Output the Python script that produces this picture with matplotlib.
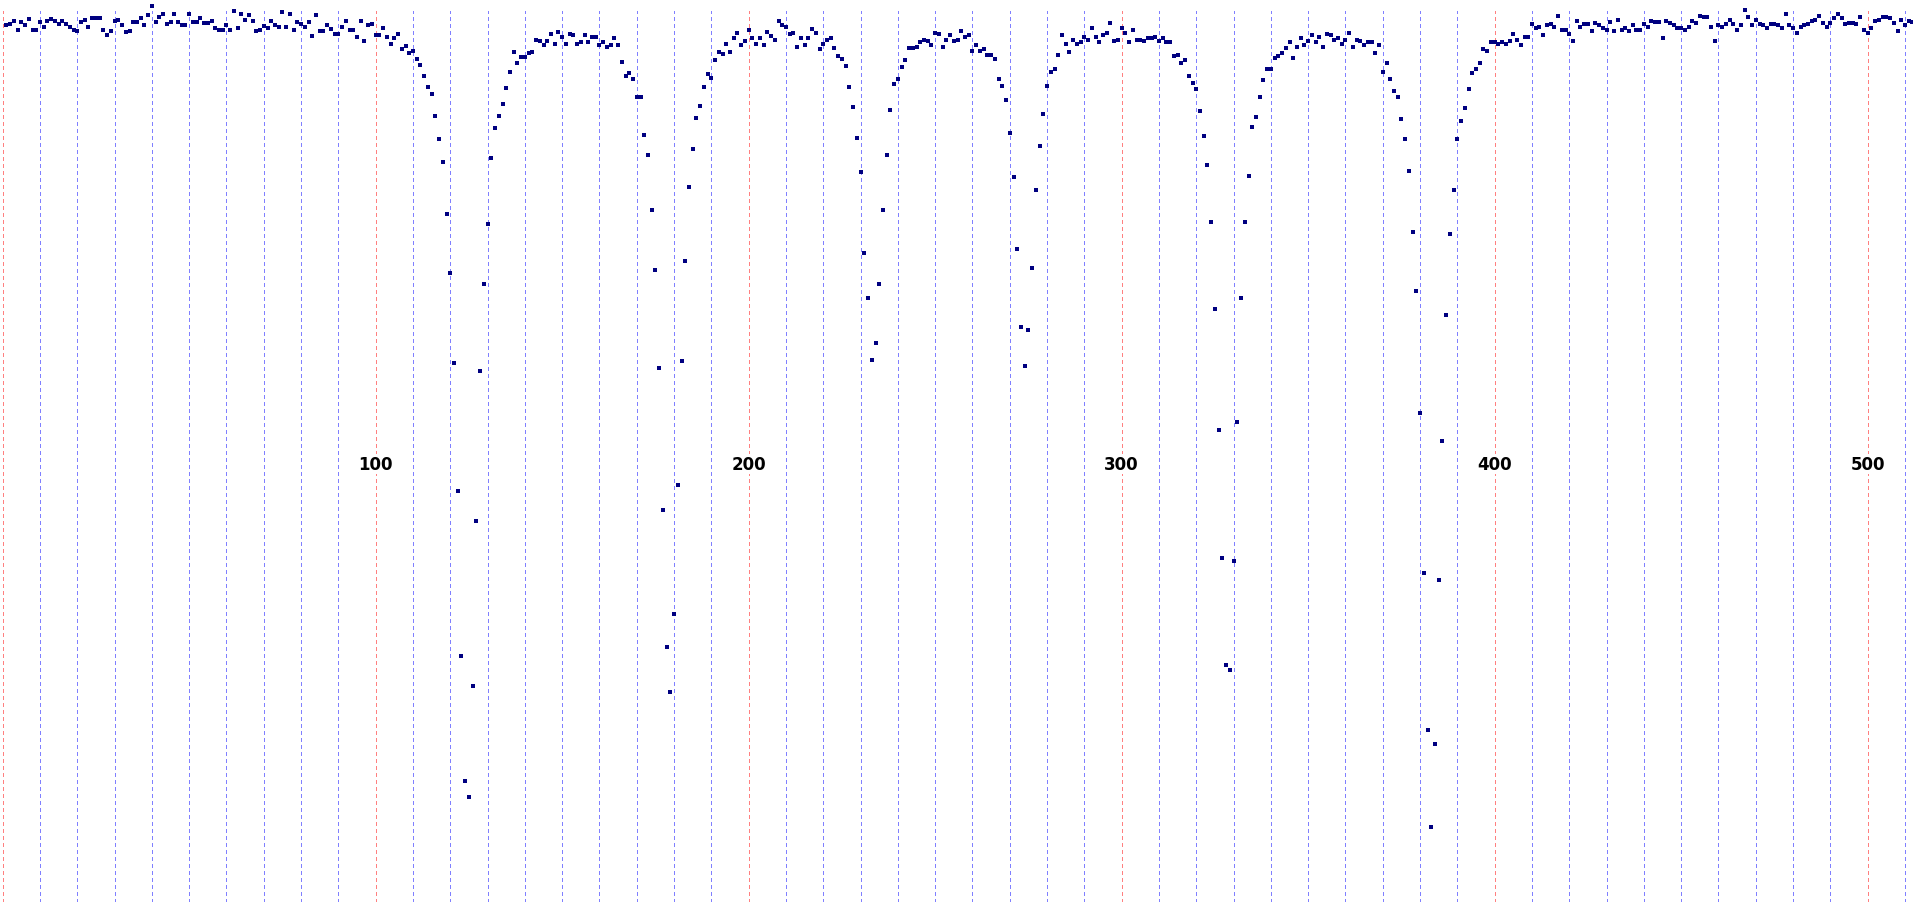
import numpy as np
import matplotlib
matplotlib.use('Agg')
import matplotlib.pyplot as plt

# one reading per sample, samples numbered 1..512
counts = [
	974, 975, 978, 969, 977, 974, 980, 969, 969, 977,
	972, 978, 980, 978, 975, 978, 975, 972, 969, 968,
	977, 979, 972, 981, 981, 981, 969, 964, 968, 978,
	979, 974, 967, 968, 977, 977, 981, 974, 984, 993,
	977, 982, 985, 975, 977, 985, 977, 974, 974, 985,
	977, 977, 981, 976, 976, 978, 971, 969, 969, 974,
	969, 988, 971, 985, 979, 984, 978, 968, 969, 973,
	971, 978, 974, 972, 987, 972, 985, 969, 977, 975,
	972, 977, 963, 984, 968, 968, 974, 970, 965, 965,
	972, 978, 969, 969, 962, 978, 958, 974, 975, 964,
	964, 971, 962, 955, 961, 965, 950, 953, 946, 948,
	940, 934, 923, 912, 905, 883, 860, 837, 785, 726,
	636, 508, 343, 218, 202, 313, 478, 628, 715, 775,
	841, 871, 883, 895, 911, 927, 947, 936, 942, 942,
	946, 947, 959, 958, 954, 958, 965, 955, 967, 962,
	955, 965, 964, 955, 957, 964, 957, 962, 962, 954,
	957, 952, 954, 961, 954, 937, 923, 926, 920, 902,
	902, 864, 844, 789, 729, 631, 489, 352, 307, 385,
	514, 638, 738, 812, 850, 881, 893, 912, 925, 921,
	939, 947, 945, 955, 947, 961, 966, 954, 958, 969,
	961, 955, 961, 954, 967, 963, 959, 978, 974, 972,
	965, 966, 952, 961, 954, 961, 970, 966, 950, 955,
	959, 961, 951, 943, 940, 933, 912, 892, 861, 827,
	746, 701, 639, 656, 715, 789, 844, 889, 915, 920,
	932, 939, 951, 951, 952, 957, 959, 958, 954, 966,
	965, 952, 959, 964, 958, 959, 968, 962, 964, 948,
	954, 948, 950, 944, 944, 940, 920, 913, 899, 866,
	822, 750, 672, 633, 669, 731, 809, 853, 885, 913,
	927, 930, 944, 964, 955, 947, 959, 955, 957, 962,
	959, 971, 962, 957, 964, 966, 976, 958, 959, 971,
	966, 957, 969, 959, 959, 958, 961, 961, 962, 958,
	961, 957, 957, 943, 944, 936, 939, 923, 916, 910,
	888, 863, 834, 777, 690, 569, 441, 334, 329, 438,
	577, 701, 777, 823, 872, 882, 902, 919, 930, 930,
	941, 943, 946, 951, 957, 941, 952, 961, 954, 958,
	964, 957, 962, 952, 965, 964, 959, 961, 955, 959,
	966, 952, 959, 958, 954, 957, 957, 946, 954, 927,
	936, 920, 908, 902, 880, 860, 828, 767, 708, 586,
	426, 269, 172, 255, 419, 558, 684, 765, 809, 860,
	878, 891, 910, 926, 930, 936, 950, 948, 957, 957,
	955, 957, 955, 958, 965, 959, 954, 962, 962, 975,
	971, 972, 964, 974, 975, 972, 983, 969, 969, 965,
	958, 978, 972, 975, 975, 968, 976, 974, 971, 969,
	977, 968, 979, 969, 971, 968, 974, 969, 969, 975,
	972, 978, 977, 977, 961, 978, 976, 974, 971, 971,
	969, 972, 978, 976, 983, 982, 982, 972, 958, 974,
	972, 975, 979, 975, 969, 974, 989, 982, 974, 979,
	975, 974, 971, 975, 975, 974, 971, 985, 974, 971,
	966, 972, 974, 975, 978, 979, 983, 976, 972, 976,
	981, 985, 981, 975, 976, 976, 975, 982, 969, 966,
	971, 978, 979, 982, 982, 981, 976, 968, 979, 974,
	978, 977,
]
samples = list(range(1, len(counts) + 1))

minor_marks = [m for m in range(10, 520, 10) if m % 100]
major_marks = [0, 100, 200, 300, 400, 500]
major_labels = ['100', '200', '300', '400', '500']

fig = plt.figure(figsize=(19.13, 9.03), dpi=100)
ax = fig.add_axes([0, 0, 1, 1])
ax.set_xlim(-0.72, 512.15)
ax.set_ylim(97, 1000)
ax.axis('off')

# dashed guides every 10 samples, red every 100
top = 1 - 12 / 903
for m in minor_marks:
	ax.axvline(m, ymin=0, ymax=top, color='#8080ff', lw=0.72, ls=(0, (4, 3)),
			   antialiased=False, zorder=1)
for m in major_marks:
	ax.axvline(m, ymin=0, ymax=top, color='#ff8080', lw=0.72, ls=(0, (4, 3)),
			   antialiased=False, zorder=1)

ax.plot(samples, counts, ls='none', marker='s', ms=2.6, mew=0, color='#000080',
		antialiased=False, zorder=3)

for m, lab in zip(major_marks[1:], major_labels):
	ax.text(m, 535, lab, ha='center', va='center', fontsize=12, fontweight='bold',
			family='DejaVu Sans', color='black', zorder=4,
			bbox=dict(facecolor='white', edgecolor='none', pad=1))

fig.savefig('out.png', dpi=100)
